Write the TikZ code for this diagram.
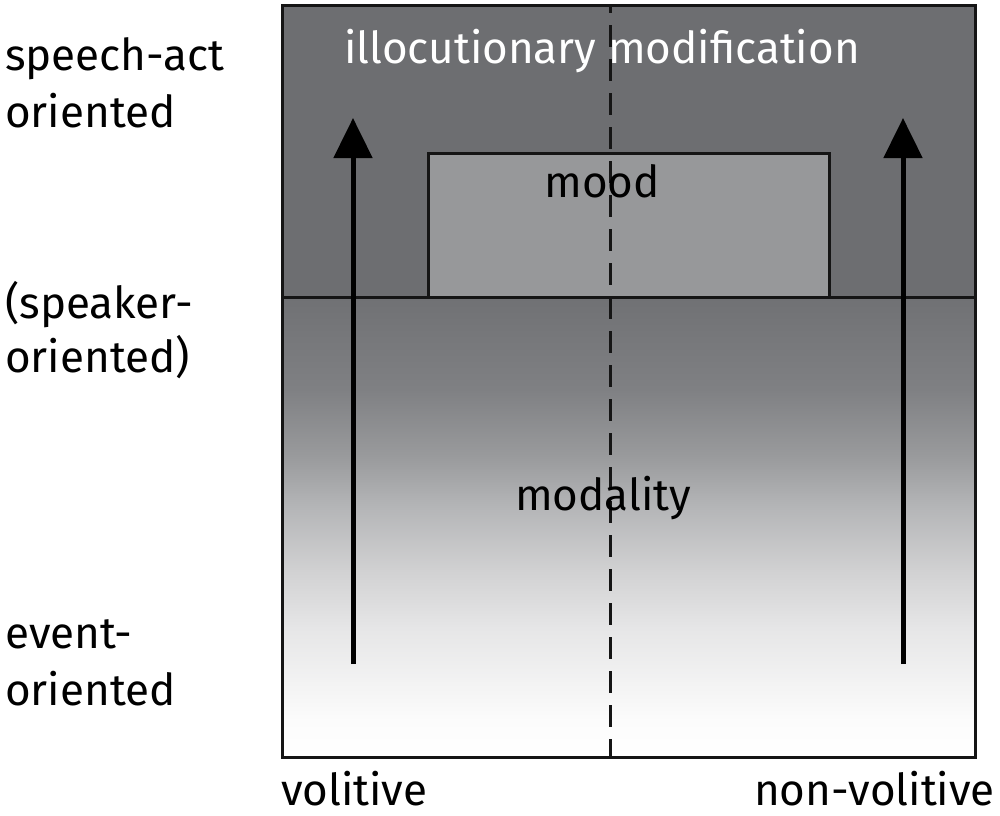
\documentclass[tikz,border=0pt]{standalone}
\usepackage{fontspec}
\setmainfont{Fira Sans}
\usetikzlibrary{arrows.meta}
\definecolor{topgray}{HTML}{6D6E71}
\definecolor{moodgray}{HTML}{97989A}
\definecolor{lineblk}{HTML}{151515}
\definecolor{gA}{HTML}{707174}
\definecolor{gB}{HTML}{7F8083}
\definecolor{gC}{HTML}{9A9B9D}
\definecolor{gD}{HTML}{B3B4B6}
\definecolor{gE}{HTML}{D2D2D3}
\definecolor{gF}{HTML}{E6E6E7}
\definecolor{gG}{HTML}{F4F4F4}
\definecolor{gH}{HTML}{FCFCFC}
\pgfdeclareverticalshading{lowgrad}{100bp}{%
  color(0bp)=(white); color(25bp)=(white); color(29bp)=(gH);
  color(32.5bp)=(gG); color(39bp)=(gF); color(45bp)=(gE);
  color(52.5bp)=(gD); color(57.5bp)=(gC); color(65bp)=(gB);
  color(75bp)=(gA); color(100bp)=(gA)}
\tikzset{
  lbl/.style={anchor=base west, inner sep=0pt, font=\fontsize{44}{52}\selectfont},
  midlbl/.style={anchor=base, inner sep=0pt, font=\fontsize{44}{52}\selectfont},
  frame/.style={draw=lineblk, line width=3pt},
  uparrow/.style={draw=black, line width=5pt, -{Triangle[width=38pt,length=40pt]}},
}
\begin{document}
\begin{tikzpicture}[x=1pt,y=-1pt]
\useasboundingbox (0,0) rectangle (1000,815);
% regions
\fill[topgray] (282,5) rectangle (975,297);
\shade[shading=lowgrad] (282,297) rectangle (975,757);
% mood box
\draw[frame, fill=moodgray] (428,297) -- (428,153) -- (829,153) -- (829,297);
% separator line and frame
\draw[frame] (282,297) -- (975,297);
\draw[frame] (282,5) rectangle (975,757);
% dashed divider
\coordinate (dtop) at (610,5);
\coordinate (dbot) at (610,757);
\draw[lineblk, line width=3pt, dash pattern=on 22pt off 12pt, dash phase=14pt] (dtop) -- (dbot);
% arrows
\coordinate (la0) at (353,664);
\coordinate (la1) at (353,118);
\coordinate (ra0) at (903,664);
\coordinate (ra1) at (903,118);
\draw[uparrow] (la0) -- (la1);
\draw[uparrow] (ra0) -- (ra1);
% inner labels
\node[midlbl, text=white] (illoc) at (602,63) {illocutionary modification};
\node[midlbl] (mood) at (602,197) {mood};
\node[midlbl] (modality) at (603,510) {modality};
% left labels
\node[lbl] (sa1) at (5,70) {speech-act};
\node[lbl] (sa2) at (5,127) {oriented};
\node[lbl] (sp1) at (5,318) {(speaker-};
\node[lbl] (sp2) at (5,372) {oriented)};
\node[lbl] (ev1) at (5,648) {event-};
\node[lbl] (ev2) at (5,705) {oriented};
% bottom labels
\node[lbl] (vol) at (281,805) {volitive};
\node[lbl, anchor=base east] (nvol) at (995,805) {non-volitive};
\end{tikzpicture}
\end{document}
